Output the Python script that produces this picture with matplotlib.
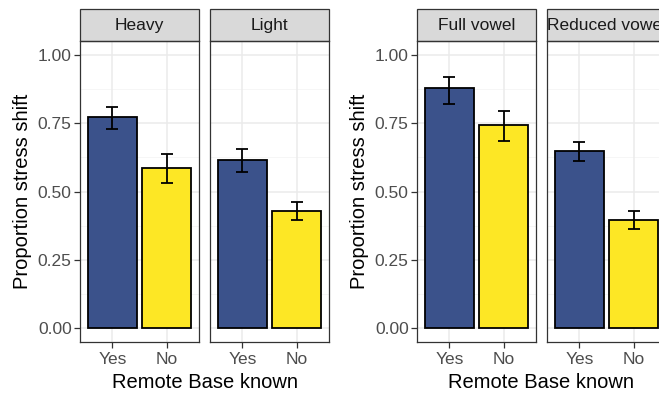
import matplotlib.pyplot as plt
from matplotlib.patches import Rectangle
import numpy as np

# facet labels (two plots of two facets each)
facets = ["Heavy", "Light", "Full vowel", "Reduced vowel"]
levels = ["Yes", "No"]

# proportion of stress shift, with error bar ends
yes_mean = [0.773, 0.615, 0.877, 0.648]
yes_low = [0.729, 0.571, 0.818, 0.613]
yes_high = [0.810, 0.656, 0.918, 0.680]
no_mean = [0.586, 0.430, 0.744, 0.396]
no_low = [0.531, 0.396, 0.686, 0.363]
no_high = [0.637, 0.463, 0.794, 0.429]

yticks = [0.0, 0.25, 0.5, 0.75, 1.0]
ytick_labels = ["0.00", "0.25", "0.50", "0.75", "1.00"]

FILL = ["#3B528B", "#FDE725"]
GRID = "#EBEBEB"
DARK = "#333333"
TXT = "#4D4D4D"

W, H = 659, 396
fig = plt.figure(figsize=(W / 100, H / 100), dpi=100)
plt.rcParams['font.family'] = ['Liberation Sans', 'DejaVu Sans']


def px_axes(x0, x1, y0, y1):
    # pixel box (y measured from top) -> figure fraction axes
    return fig.add_axes([x0 / W, 1 - y1 / H, (x1 - x0) / W, (y1 - y0) / H])


panel_x = [(80, 199), (210, 329), (417, 536), (547, 666)]
top, bottom = 41, 342
strip_top = 9

for i, name in enumerate(facets):
    ax = px_axes(panel_x[i][0], panel_x[i][1], top, bottom)
    x = np.arange(1, 3)
    means = [yes_mean[i], no_mean[i]]
    lows = [yes_low[i], no_low[i]]
    highs = [yes_high[i], no_high[i]]

    ax.set_xlim(0.4, 2.6)
    ax.set_ylim(-0.05, 1.05)
    ax.set_facecolor("white")
    for yy in [0.125, 0.375, 0.625, 0.875]:
        ax.axhline(yy, color="#F5F5F5", lw=0.6, zorder=0)
    for yy in yticks:
        ax.axhline(yy, color=GRID, lw=1.1, zorder=0)
    for xx in x:
        ax.axvline(xx, color=GRID, lw=1.1, zorder=0)

    ax.bar(x, means, width=0.9, color=FILL, edgecolor="black", linewidth=1.3, zorder=2)
    yerr = [np.array(means) - np.array(lows), np.array(highs) - np.array(means)]
    ax.errorbar(x, means, yerr=yerr, fmt="none", ecolor="black", elinewidth=1.3,
                capsize=4, capthick=1.3, zorder=3)

    ax.set_xticks(x)
    ax.set_xticklabels(levels, fontsize=12.5, color=TXT)
    ax.set_yticks(yticks)
    if i % 2 == 0:
        ax.set_yticklabels(ytick_labels, fontsize=12.5, color=TXT)
        ax.set_ylabel("Proportion stress shift", fontsize=14.5, color="black", labelpad=4)
        ax.tick_params(axis="y", length=4, width=0.9, color=DARK, pad=2)
    else:
        ax.tick_params(axis="y", length=0, labelleft=False)
    ax.tick_params(axis="x", length=4, width=0.9, color=DARK, pad=3)
    for s in ax.spines.values():
        s.set_color(DARK)
        s.set_linewidth(0.9)

    # facet strip above the panel
    strip_h = (top - strip_top) / (bottom - top)
    ax.add_patch(Rectangle((0, 1), 1, strip_h, transform=ax.transAxes,
                           facecolor="#D9D9D9", edgecolor=DARK, lw=0.9, clip_on=False))
    ax.text(0.5, 1 + strip_h / 2, name, transform=ax.transAxes, ha="center", va="center",
            fontsize=12.5, color="#1A1A1A", clip_on=False)

fig.text(205 / W, 1 - 382 / H, "Remote Base known", ha="center", va="center", fontsize=14.5)
fig.text(541 / W, 1 - 382 / H, "Remote Base known", ha="center", va="center", fontsize=14.5)

fig.savefig("out.png", dpi=100, facecolor="white")
